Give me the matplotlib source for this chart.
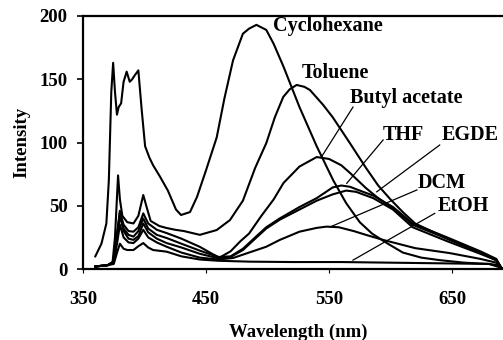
import matplotlib

matplotlib.use("Agg")
import matplotlib.pyplot as plt

plt.rcParams.update({
    "font.family": "Liberation Serif",
    "font.weight": "bold",
    "font.size": 13.5,
})

# ── Данные ──
wl_cyclohexane = [360, 365, 369, 371, 373, 374.5, 376, 377.6, 379, 381, 383, 385.5, 388, 390, 392,
                  395, 397.7, 400.5, 404, 407, 412.6, 419, 425.6, 429.7, 437, 442.7, 450, 458.7, 465,
                  472, 480, 485, 491, 495, 499, 505, 513, 526, 540, 553.5, 564, 575, 585, 597, 610,
                  625, 640, 660, 680, 688, 690]
int_cyclohexane = [10, 20, 36, 70, 140, 163, 140, 122, 128, 131, 148, 156, 148, 150, 153,
                   157, 126, 97, 88, 82, 73, 62, 47, 42.7, 45, 57, 78, 104, 135,
                   165, 186, 190, 193, 191, 189, 178, 160, 128, 97, 70, 52, 37, 28, 20.5, 13,
                   9, 7, 5, 4, 3, 1]

wl_toluene = [360, 370, 374, 376, 378.5, 380, 382, 386, 391, 395, 399, 402, 405, 412, 418, 425, 432,
              445, 458.7, 469.5, 480, 490, 499, 506, 512.8, 518, 523.7, 530, 534.5, 545, 553, 567,
              580, 590, 600, 610, 620, 646, 673, 686, 690]
int_toluene = [2, 3, 5, 25, 74, 55, 42, 37, 36, 42, 58.5, 48, 38, 34, 32.4, 31, 30,
               27, 30.8, 38.7, 54, 80, 99.5, 120, 136, 142, 145.5, 144, 141.5, 130, 120, 99.5,
               80, 66, 55, 45, 36, 24, 13, 7, 1]

wl_butyl = [360, 370, 375, 378, 380, 383, 387, 391, 395, 399, 403, 410, 418, 430, 445, 455, 461,
            470, 478, 485, 495, 505, 513, 526, 540, 550, 560, 567, 580, 590, 605, 618, 646, 673,
            686, 690]
int_butyl = [2, 3, 6, 30, 45, 35, 30, 29.5, 33, 44, 36, 31, 28.4, 24, 17.5, 12, 9,
             14, 22, 28, 42, 55, 68, 81, 88.5, 87, 82, 76, 64, 56, 46, 35, 24, 13,
             7, 1]

wl_thf = [360, 370, 375, 378, 380, 383, 387, 391, 395, 399, 403, 410, 418, 430, 445, 460, 470,
          480, 490, 499, 510, 526, 540, 553, 560, 567, 575, 586, 602, 618, 646, 673, 686, 690]
int_thf = [2, 3, 6, 30, 46, 32, 27, 25.6, 30, 40, 32, 27, 24.5, 20, 14.5, 9.5, 10,
           16, 25, 33, 40, 49, 56, 64.5, 66, 65, 62, 58, 49, 36, 25, 14, 8, 1]

wl_egde = [360, 370, 375, 378, 380, 383, 387, 391, 395, 399, 403, 410, 418, 430, 445, 460, 470,
           480, 490, 499, 510, 526, 540, 553, 564, 572, 586, 602, 618, 646, 673, 686, 690]
int_egde = [2, 3, 5, 28, 42, 30, 24, 23, 26, 36, 29, 24, 20.5, 17, 12, 8.5, 9.5,
            15, 24, 32, 39, 47, 54, 59, 62, 61, 56, 47, 33, 22, 12, 7, 1]

wl_dcm = [360, 370, 375, 378, 380, 383, 387, 391, 395, 399, 403, 410, 418, 430, 445, 460, 472,
          485, 499, 510, 526, 540, 548, 558, 570, 580, 594, 610, 620, 648, 673, 686, 690]
int_dcm = [2, 3, 5, 22, 35, 25, 21, 20.5, 24, 31, 25, 21, 17.6, 13, 9, 7.5, 8.7,
           13, 17.6, 23, 29.5, 32.5, 33.5, 33, 30, 27, 23, 19, 16.5, 12.6, 8, 5, 1]

wl_etoh = [360, 370, 375, 378, 380, 383, 386, 391, 395, 399, 403, 407, 418, 430, 445, 460, 486,
           520, 560, 600, 640, 680, 690]
int_etoh = [2, 3, 4, 14, 20, 16, 15, 15, 18, 20.5, 17, 15, 13.7, 10, 7.5, 6.5, 5.8,
            5.5, 5.5, 5, 4.5, 4, 1]

series = [
    (wl_cyclohexane, int_cyclohexane),
    (wl_toluene, int_toluene),
    (wl_butyl, int_butyl),
    (wl_thf, int_thf),
    (wl_egde, int_egde),
    (wl_dcm, int_dcm),
    (wl_etoh, int_etoh),
]

# подписи: текст, позиция текста, начало и конец выноски (None — без выноски)
label_names = ["Cyclohexane", "Toluene", "Butyl acetate", "THF", "EGDE", "DCM", "EtOH"]
label_xy = [(504.5, 192), (527.8, 155), (567, 135), (594, 106), (641.6, 106), (622.4, 68), (638.6, 50)]
leader_start = [None, None, (569.5, 128), (594, 102), (640, 98), (621.5, 62.5), (636, 44)]
leader_end = [None, None, (544, 88.8), (564.4, 67.7), (588.8, 61), (550.8, 33.2), (569.5, 7)]

x_ticks = [350, 450, 550, 650]
y_ticks = [0, 50, 100, 150, 200]

fig = plt.figure(figsize=(5.03, 3.40), dpi=100)
# ось продолжается за правый край рисунка (как на оригинале — он обрезан)
ax = fig.add_axes([83 / 503, 71 / 340, 430.5 / 503, 253 / 340])

for wl, inten in series:
    ax.plot(wl, inten, color="black", linewidth=1.5)

for name, (tx, ty), start, end in zip(label_names, label_xy, leader_start, leader_end):
    ax.text(tx, ty, name, ha="left", va="center", fontsize=14.5, fontweight="bold")
    if start is not None:
        ax.plot([start[0], end[0]], [start[1], end[1]], color="black", linewidth=0.9)

ax.set_xlim(350, 700)
ax.set_ylim(0, 200)
ax.set_xticks(x_ticks)
ax.set_yticks(y_ticks)
ax.tick_params(axis="x", direction="out", length=3, width=0.8, pad=13)
ax.tick_params(axis="y", direction="out", length=4, width=1.2, pad=7)
for s in ax.spines.values():
    s.set_linewidth(1.6)

ax.set_xlabel("Wavelength (nm)", fontsize=13.5, fontweight="bold", labelpad=11)
ax.set_ylabel("Intensity", fontsize=13.5, fontweight="bold", labelpad=7)

fig.savefig("out.png", dpi=100)
plt.close(fig)
